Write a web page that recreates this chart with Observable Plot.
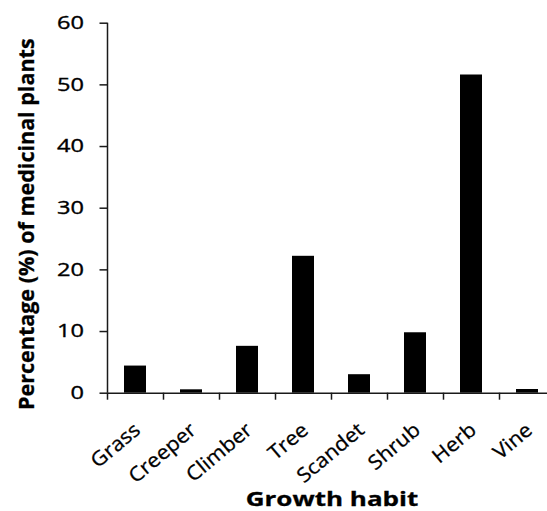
<!DOCTYPE html>
<html><head><meta charset="utf-8">
<script src="https://cdn.jsdelivr.net/npm/d3@7"></script>
<script src="https://cdn.jsdelivr.net/npm/@observablehq/plot@0.6"></script>
<style>html,body{margin:0;padding:0;background:#fff;} svg{display:block;}</style>
</head><body><div id="chart"></div>
<script>
const categories = ["Grass", "Creeper", "Climber", "Tree", "Scandet", "Shrub", "Herb", "Vine"];
const values = [4.4, 0.55, 7.6, 22.2, 3.0, 9.8, 51.6, 0.6];
const yTicks = [0, 10, 20, 30, 40, 50, 60];
const yTitle = "Percentage (%) of medicinal plants";
const xTitle = "Growth habit";

const data = categories.map((c, i) => ({habit: c, pct: values[i]}));
const W = 547, H = 511, mL = 107.5, mR = -8.5, mT = 22.7, mB = 118.3;
const step = (W - mL - mR) / categories.length;
const axisColor = "#1a1a1a";

const chart = Plot.plot({
  width: W, height: H,
  marginLeft: mL, marginRight: mR, marginTop: mT, marginBottom: mB,
  style: {fontFamily: '"Open Sans", sans-serif', color: "#000", background: "#fff", overflow: "visible"},
  x: {domain: categories, paddingInner: 0.6, paddingOuter: 0.3},
  y: {domain: [yTicks[0], yTicks[yTicks.length - 1]]},
  marks: [
    Plot.barY(data, {x: "habit", y: "pct", fill: "#000"}),
    Plot.ruleY([yTicks[0]], {stroke: axisColor, strokeWidth: 1.5}),
    Plot.ruleX([categories[0]], {dx: -step / 2, y1: yTicks[0], y2: yTicks[yTicks.length - 1], stroke: axisColor, strokeWidth: 1.5}),
    Plot.axisY({ticks: yTicks, tickSize: 8, tickPadding: 16, fontSize: 18, tickFormat: d => String(d), stroke: axisColor, strokeWidth: 1.5, fill: "#000", label: null}),
    Plot.axisX({tickSize: 7, dx: -step / 2, tickFormat: () => "", stroke: axisColor, strokeWidth: 1.5, label: null}),
    Plot.axisX({tickSize: 0, tickRotate: -40, tickPadding: 34, dx: 2, fontSize: 20, fill: "#000", label: null}),
    Plot.text([yTitle], {frameAnchor: "left", textAnchor: "middle", rotate: -90, lineAnchor: "bottom", dx: -74.5, dy: 16, fontSize: 21.5, fontWeight: "bold", fill: "#000"}),
    Plot.text([xTitle], {frameAnchor: "bottom", textAnchor: "middle", lineAnchor: "bottom", dy: 112.8, fontSize: 20, fontWeight: "bold", fill: "#000"})
  ]
});
document.getElementById("chart").append(chart);

function stretch(list, k, sw) {
  list.forEach(t => {
    const L = t.getComputedTextLength();
    if (L > 0 && k !== 1) { t.setAttribute("textLength", L * k); t.setAttribute("lengthAdjust", "spacingAndGlyphs"); }
    if (sw) { t.style.stroke = "#000"; t.style.strokeWidth = sw + "px"; }
  });
}
const allText = Array.from(chart.querySelectorAll("text"));
stretch(Array.from(chart.querySelectorAll('g[aria-label="y-axis tick label"] text')), 1.31, 0.35);
stretch(Array.from(chart.querySelectorAll('g[aria-label="x-axis tick label"] text')), 1.08, 0.3);
stretch(allText.filter(t => t.textContent === xTitle), 1.3, 0.3);
stretch(allText.filter(t => t.textContent === yTitle), 1, 0.3);
</script>
</body></html>
